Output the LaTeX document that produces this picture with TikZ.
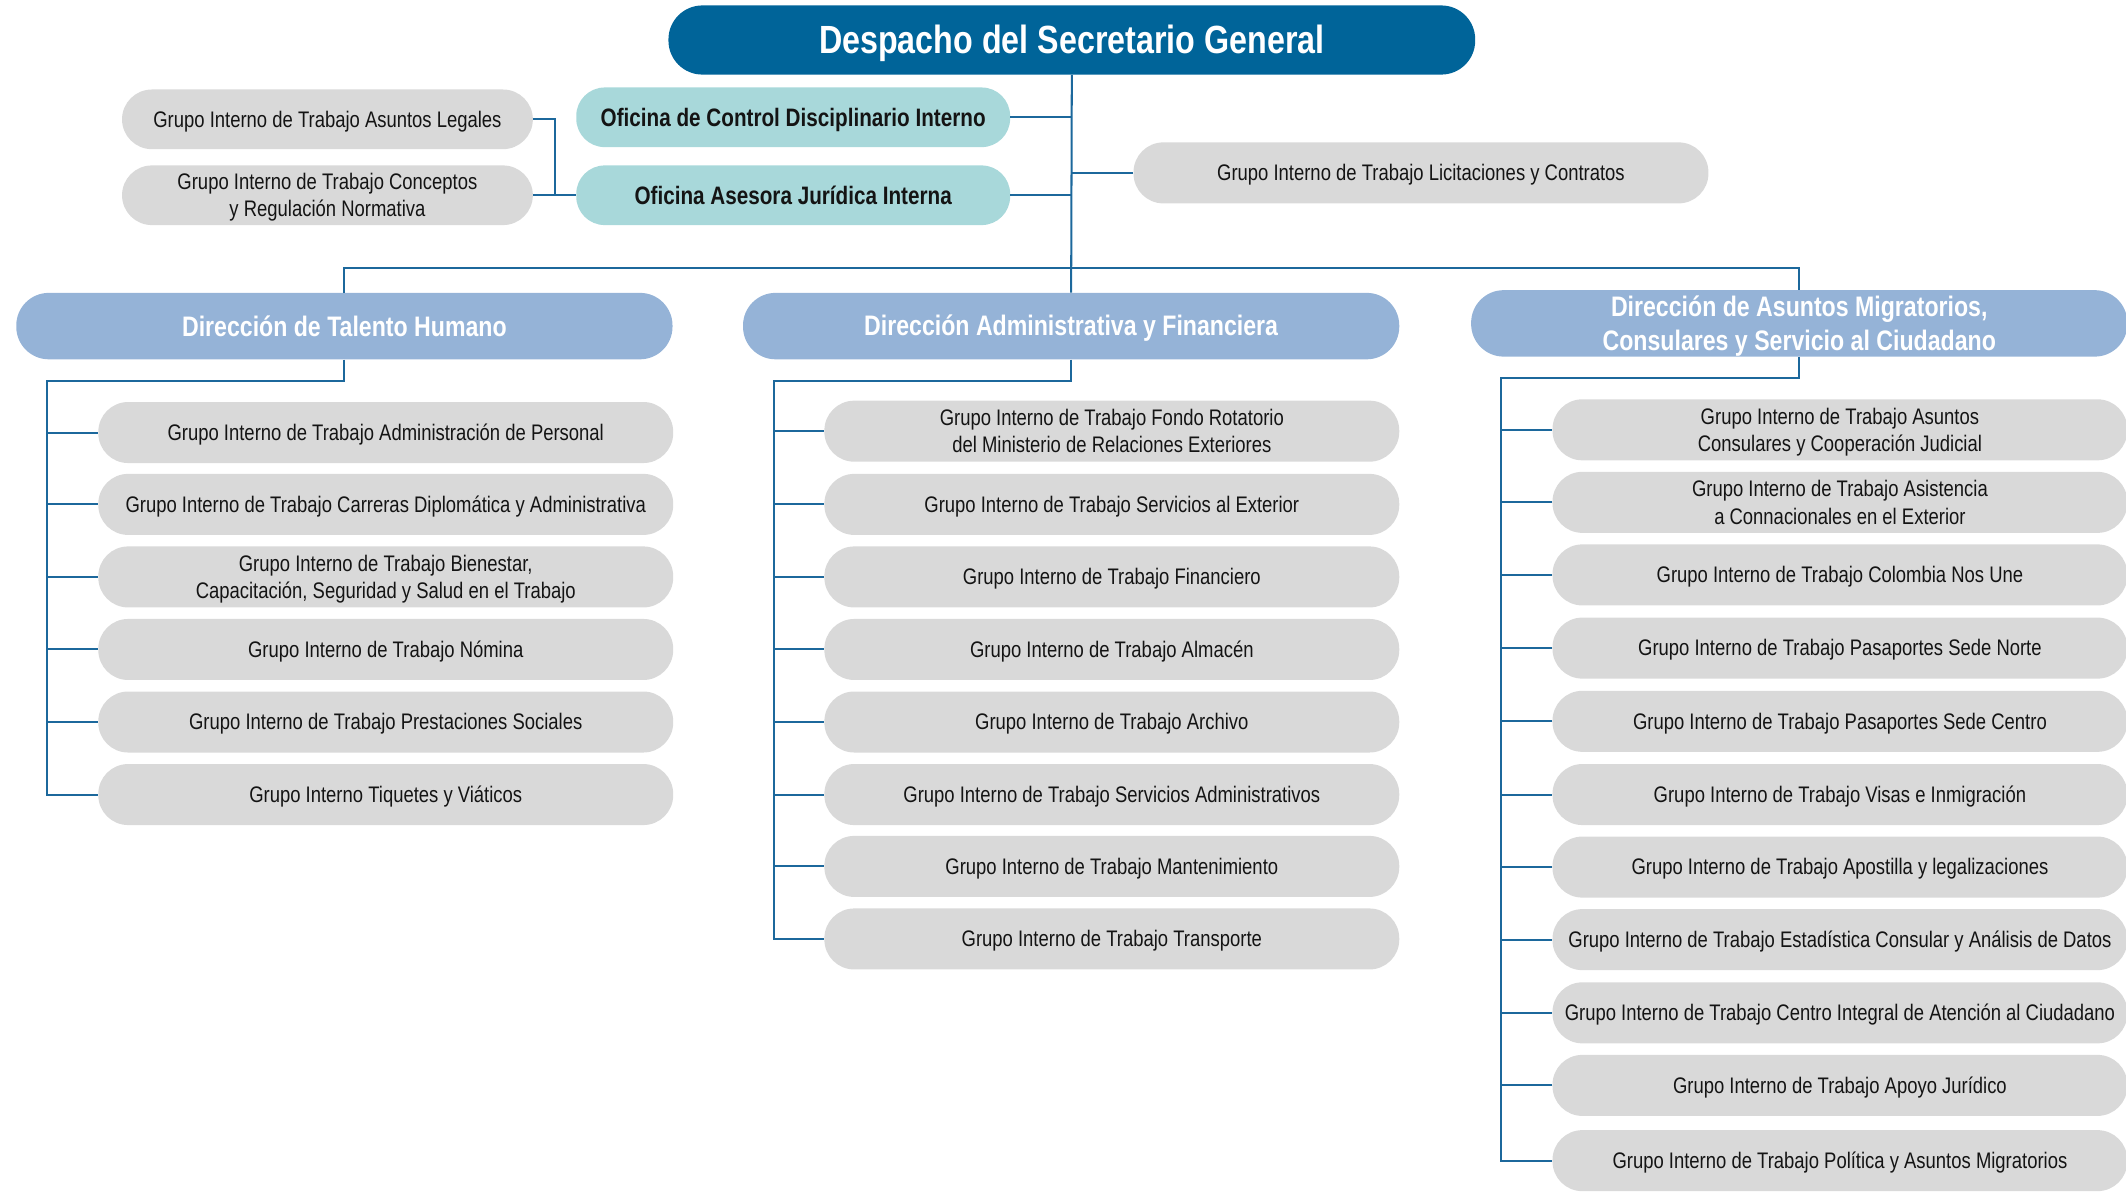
\documentclass[tikz,border=0pt]{standalone}
\usepackage{fontspec}
\setmainfont{Liberation Sans}[FakeStretch=0.82]
\definecolor{topblue}{RGB}{0,100,153}
\definecolor{linecol}{RGB}{28,104,156}
\definecolor{tealbox}{RGB}{168,216,218}
\definecolor{dirbox}{RGB}{149,179,215}
\definecolor{boxgray}{RGB}{217,217,217}
\definecolor{txt}{RGB}{20,20,20}
\newcommand\mystrut{\rule[-0.18em]{0pt}{1.08em}}
\begin{document}
\begin{tikzpicture}[x=1pt,y=-1pt,
  conn/.style={draw=linecol,line width=1.5pt},
  boxbase/.style={inner sep=0pt,align=center,
    execute at begin node=\mystrut,execute at end node=\mystrut},
  topbox/.style={boxbase,fill=topblue,text=white,rounded corners=25pt,
    minimum width=595pt,minimum height=51pt,font=\bfseries\fontsize{29}{32}\selectfont},
  tealstyle/.style={boxbase,fill=tealbox,text=txt,rounded corners=21pt,
    minimum width=320pt,minimum height=44pt,font=\bfseries\fontsize{18.6}{22}\selectfont},
  dirstyle/.style={boxbase,fill=dirbox,text=white,rounded corners=24pt,
    minimum width=484pt,minimum height=49pt,font=\bfseries\fontsize{20.8}{25}\selectfont},
  grp/.style={boxbase,fill=boxgray,text=txt,rounded corners=22pt,
    minimum width=424pt,minimum height=45pt,font=\fontsize{16.6}{20}\selectfont},
]
\useasboundingbox (0,0) rectangle (1568,879);

% top
\node[topbox] (sg) at (790.5,29.5) {Despacho del Secretario General};
\node[tealstyle] (ocdi) at (585,86.5) {Oficina de Control Disciplinario Interno};
\node[tealstyle] (oaj) at (585,144) {Oficina Asesora Jurídica Interna};
\node[grp,minimum width=303pt,minimum height=44pt] (gal) at (241.5,88) {Grupo Interno de Trabajo Asuntos Legales};
\node[grp,minimum width=303pt,minimum height=44pt] (gcr) at (241.5,144) {\mystrut Grupo Interno de Trabajo Conceptos\\y Regulación Normativa\mystrut};
\node[grp] (glc) at (1048,127.5) {Grupo Interno de Trabajo Licitaciones y Contratos};

% direcciones
\node[dirstyle] (th) at (254,240.5) {Dirección de Talento Humano};
\node[dirstyle] (daf) at (790,240.5) {Dirección Administrativa y Financiera};
\node[dirstyle] (dam) at (1327,238.5) {\mystrut Dirección de Asuntos Migratorios,\\Consulares y Servicio al Ciudadano\mystrut};

% top connectors
\coordinate (bus) at (790,198);
\draw[conn] (sg.south) -- (daf.north);
\draw[conn] (th.north) |- (bus) -| (dam.north);
\draw[conn] (ocdi.east) -- (ocdi.east -| sg.south);
\draw[conn] (oaj.east) -- (oaj.east -| sg.south);
\draw[conn] (glc.west) -- (glc.west -| sg.south);
\draw[conn] (gal.east) -- ++(16,0) |- (oaj.west);
\draw[conn] (gcr.east) -- (oaj.west);

% column 1
\node[grp] (a1) at (284.5,319) {Grupo Interno de Trabajo Administración de Personal};
\node[grp] (a2) at (284.5,372) {Grupo Interno de Trabajo Carreras Diplomática y Administrativa};
\node[grp] (a3) at (284.5,425.5) {\mystrut Grupo Interno de Trabajo Bienestar,\\Capacitación, Seguridad y Salud en el Trabajo\mystrut};
\node[grp] (a4) at (284.5,479) {Grupo Interno de Trabajo Nómina};
\node[grp] (a5) at (284.5,532.5) {Grupo Interno de Trabajo Prestaciones Sociales};
\node[grp] (a6) at (284.5,586) {Grupo Interno Tiquetes y Viáticos};
\coordinate (ta) at (35,281);
\draw[conn] (th.south) |- (ta) |- (a6.west);
\foreach \i in {1,...,5} \draw[conn] (a\i.west -| ta) -- (a\i.west);

% column 2
\node[grp] (b1) at (820,318) {\mystrut Grupo Interno de Trabajo Fondo Rotatorio\\del Ministerio de Relaciones Exteriores\mystrut};
\node[grp] (b2) at (820,372) {Grupo Interno de Trabajo Servicios al Exterior};
\node[grp] (b3) at (820,425.5) {Grupo Interno de Trabajo Financiero};
\node[grp] (b4) at (820,479) {Grupo Interno de Trabajo Almacén};
\node[grp] (b5) at (820,532.5) {Grupo Interno de Trabajo Archivo};
\node[grp] (b6) at (820,586) {Grupo Interno de Trabajo Servicios Administrativos};
\node[grp] (b7) at (820,639) {Grupo Interno de Trabajo Mantenimiento};
\node[grp] (b8) at (820,692.5) {Grupo Interno de Trabajo Transporte};
\coordinate (tb) at (571,281);
\draw[conn] (daf.south) |- (tb) |- (b8.west);
\foreach \i in {1,...,7} \draw[conn] (b\i.west -| tb) -- (b\i.west);

% column 3
\node[grp] (c1) at (1357,317) {\mystrut Grupo Interno de Trabajo Asuntos\\Consulares y Cooperación Judicial\mystrut};
\node[grp] (c2) at (1357,370.5) {\mystrut Grupo Interno de Trabajo Asistencia\\a Connacionales en el Exterior\mystrut};
\node[grp] (c3) at (1357,424) {Grupo Interno de Trabajo Colombia Nos Une};
\node[grp] (c4) at (1357,478) {Grupo Interno de Trabajo Pasaportes Sede Norte};
\node[grp] (c5) at (1357,532) {Grupo Interno de Trabajo Pasaportes Sede Centro};
\node[grp] (c6) at (1357,586) {Grupo Interno de Trabajo Visas e Inmigración};
\node[grp] (c7) at (1357,639.5) {Grupo Interno de Trabajo Apostilla y legalizaciones};
\node[grp] (c8) at (1357,693) {Grupo Interno de Trabajo Estadística Consular y Análisis de Datos};
\node[grp] (c9) at (1357,747) {Grupo Interno de Trabajo Centro Integral de Atención al Ciudadano};
\node[grp] (c10) at (1357,800.5) {Grupo Interno de Trabajo Apoyo Jurídico};
\node[grp] (c11) at (1357,856) {Grupo Interno de Trabajo Política y Asuntos Migratorios};
\coordinate (tc) at (1107,279);
\draw[conn] (dam.south) |- (tc) |- (c11.west);
\foreach \i in {1,...,10} \draw[conn] (c\i.west -| tc) -- (c\i.west);
\end{tikzpicture}
\end{document}
